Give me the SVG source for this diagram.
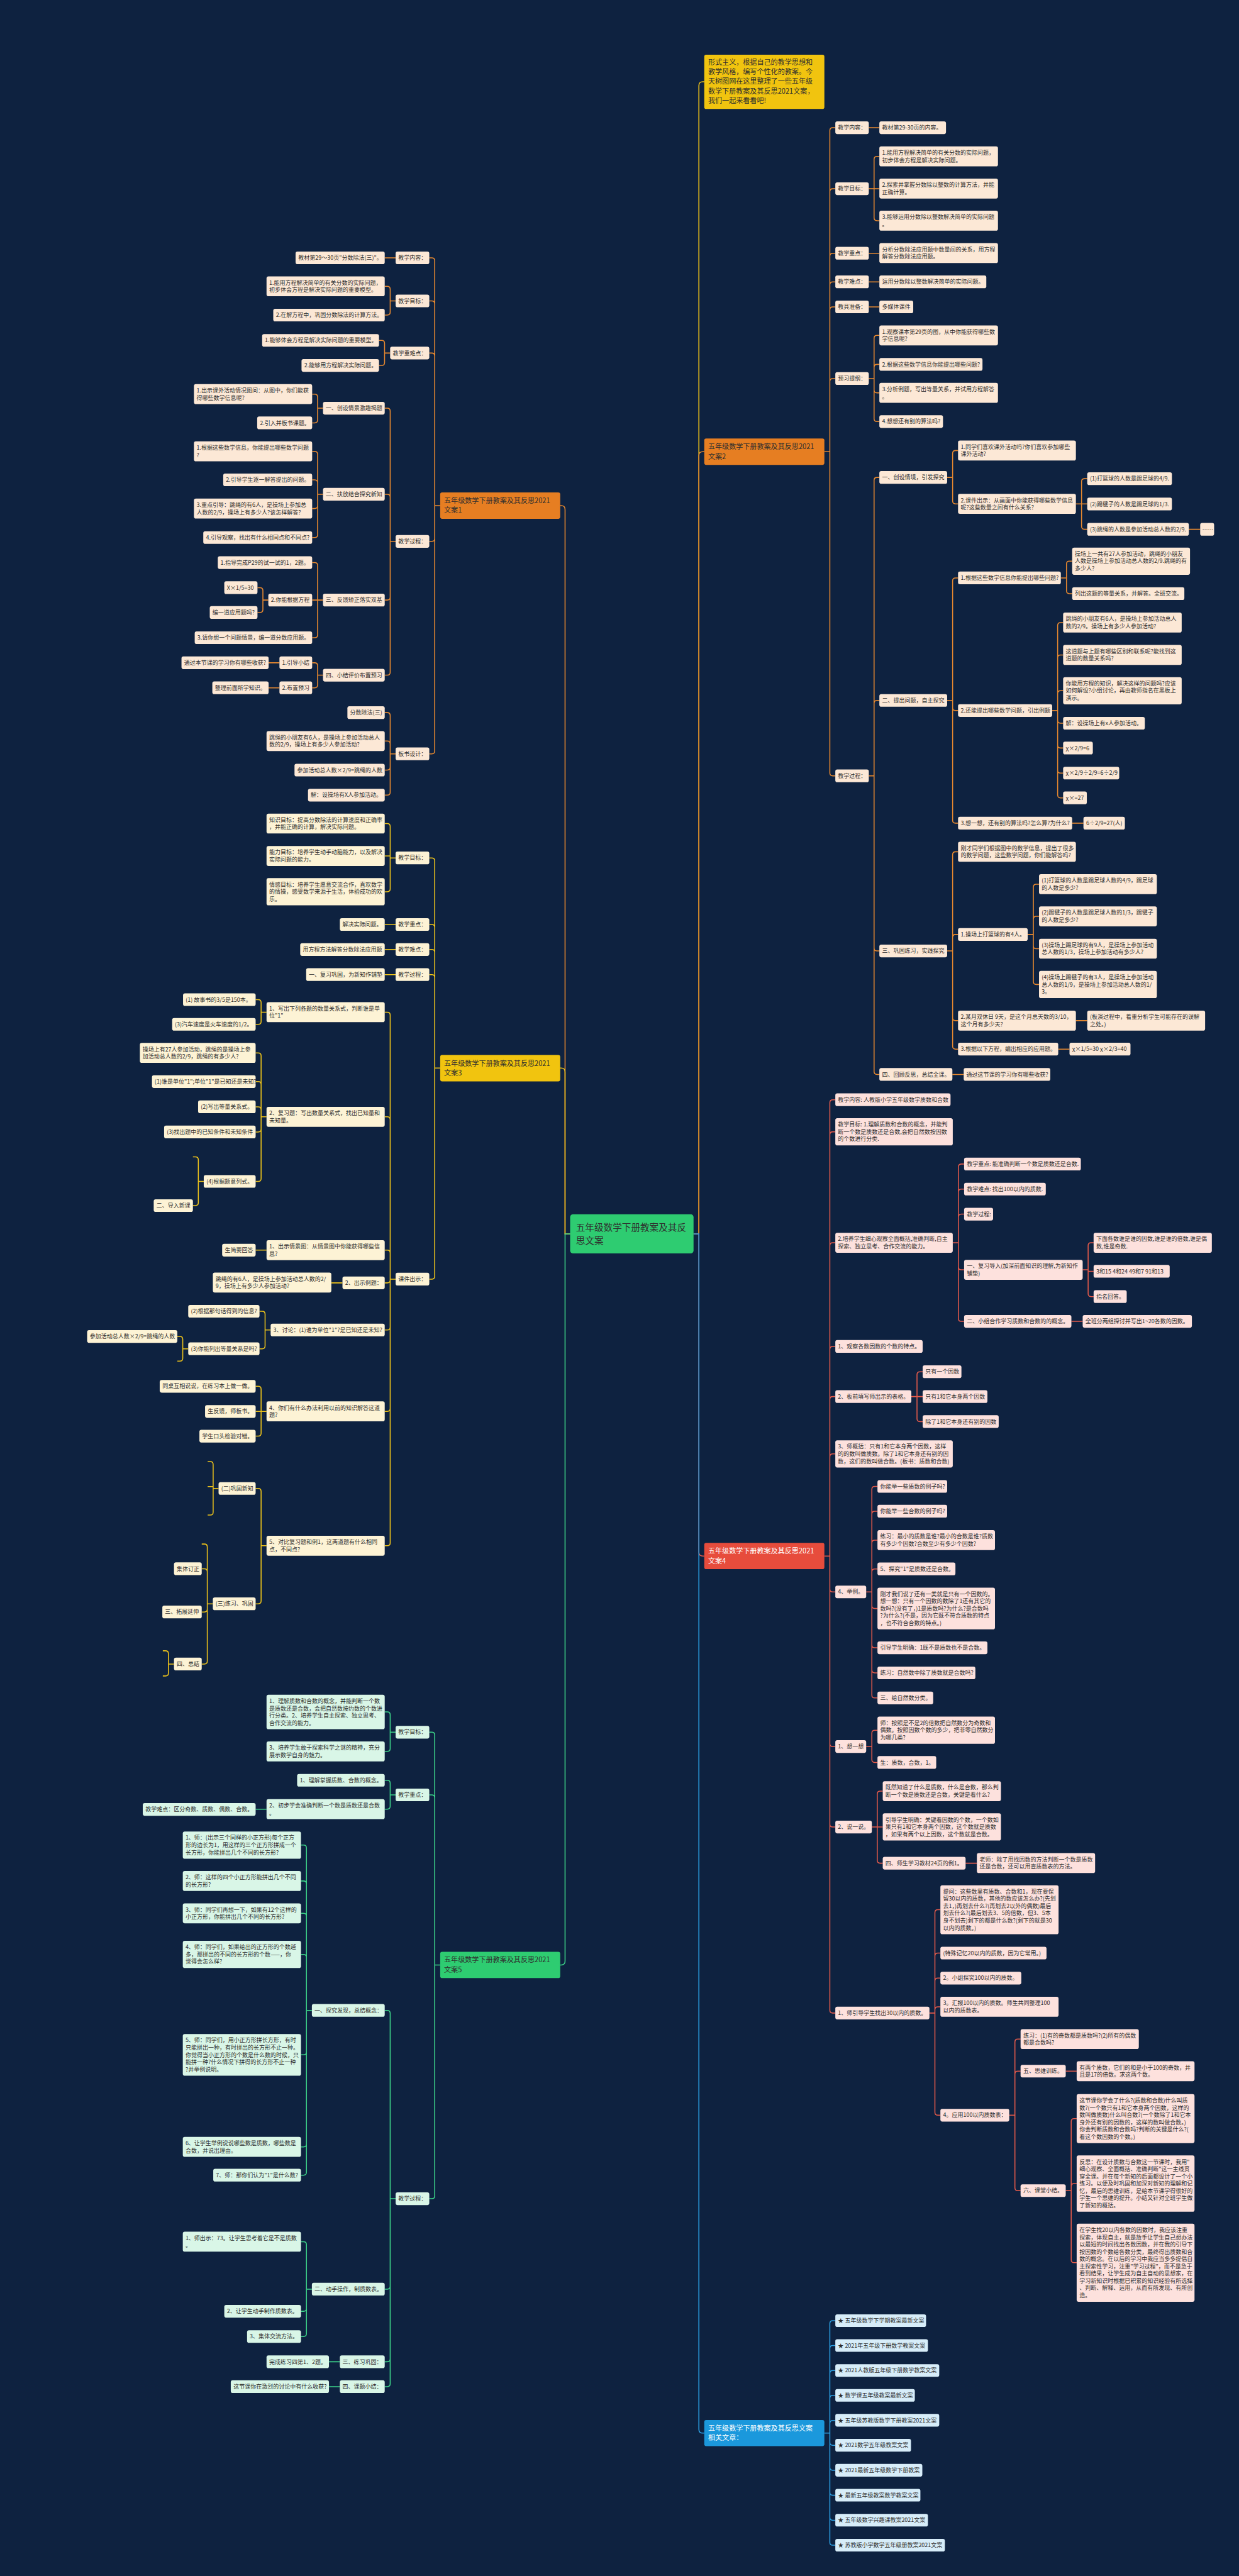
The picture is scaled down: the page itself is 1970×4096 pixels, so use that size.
<svg xmlns="http://www.w3.org/2000/svg" width="1970" height="4096" viewBox="0 0 1970 4096">
<style>
text{font-family:"Noto Sans CJK SC","Microsoft YaHei",sans-serif;font-size:11.7px;fill:#2e2e2e}
.bt{font-size:14.4px}
.ct{font-size:19px}
.it{font-size:14.4px}
.wt{fill:#ffffff}
rect{rx:4px}
.o{fill:#fce8d6}.y{fill:#fdf3d5}.r{fill:#fde1dd}.g{fill:#d9f6e7}.b{fill:#d7edf9}
.bo{fill:#e67e22}.by{fill:#f1c40f}.br{fill:#e74c3c}.bg{fill:#2ecc71}.bb{fill:#1b98dc}
path{fill:none;stroke-width:2}
.lo{stroke:#e8892f}.ly{stroke:#eec31a}.lr{stroke:#e35a4b}.lg{stroke:#3dd389}.lb{stroke:#2b9fe2}
</style>
<rect x="0" y="0" width="1970" height="4096" fill="#0e2240" style="rx:0"/>
<g transform="scale(0.76953)">
<g id="connectors">
<path class="lo" d="M1178 2549.5H1167.5V1052.8Q1167.5 1044.8 1159.5 1044.8H1157.5"/>
<path class="ly" d="M1178 2549.5H1167.5V2215Q1167.5 2207 1159.5 2207H1157.5"/>
<path class="lg" d="M1178 2549.5H1167.5V4052.2Q1167.5 4060.2 1159.5 4060.2H1157.5"/>
<path class="ly" d="M1433 2549.5H1444V177Q1444 169 1452 169H1455.1"/>
<path class="lo" d="M1433 2549.5H1444V941.3Q1444 933.3 1452 933.3H1455.1"/>
<path class="lr" d="M1433 2549.5H1444V3207.2Q1444 3215.2 1452 3215.2H1455.1"/>
<path class="lb" d="M1433 2549.5H1444V5019.5Q1444 5027.5 1452 5027.5H1455.1"/>
<path class="lo" d="M909.5 1044.8H898.2V538.8Q898.2 532.8 892.2 532.8H887M898.2 627.8Q898.2 621.8 892.2 621.8H887M898.2 735.5Q898.2 729.5 892.2 729.5H887M909.5 1044.8H898.2V1112.6Q898.2 1118.6 892.2 1118.6H887V1118.6M898.2 1112.6V1551.7Q898.2 1557.7 892.2 1557.7H887"/>
<path class="lo" d="M817.4 532.8H794.9"/>
<path class="lo" d="M817.4 621.8H806.2V597.7Q806.2 591.7 800.2 591.7H794.9M806.2 621.8V645Q806.2 651 800.2 651H794.9"/>
<path class="lo" d="M806.1 729.5H794.6V709.3Q794.6 703.3 788.6 703.3H783.1M794.6 729.5V749.1Q794.6 755.1 788.6 755.1H783.1"/>
<path class="lo" d="M817.4 1118.6H806.2V849.5Q806.2 843.5 800.2 843.5H794.9M806.2 1027.3Q806.2 1021.3 800.2 1021.3H794.9M806.2 1118.6V1233.9Q806.2 1239.9 800.2 1239.9H794.9M806.2 1233.9V1389.1Q806.2 1395.1 800.2 1395.1H794.9"/>
<path class="lo" d="M667.4 843.5H656.2V820.4Q656.2 814.4 650.2 814.4H645M656.2 843.5V867.8Q656.2 873.8 650.2 873.8H645"/>
<path class="lo" d="M667.4 1021.3H656.2V938.6Q656.2 932.6 650.2 932.6H645M656.2 997.5Q656.2 991.5 650.2 991.5H645M656.2 1021.3V1044.8Q656.2 1050.8 650.2 1050.8H645M656.2 1044.8V1104.8Q656.2 1110.8 650.2 1110.8H645"/>
<path class="lo" d="M667.4 1239.9H656.2V1168.5Q656.2 1162.5 650.2 1162.5H645M667.4 1239.9H645M656.2 1239.9V1311.7Q656.2 1317.7 650.2 1317.7H645"/>
<path class="lo" d="M554.4 1239.9H543.2V1220.3Q543.2 1214.3 537.2 1214.3H532M543.2 1239.9V1259.6Q543.2 1265.6 537.2 1265.6H532"/>
<path class="lo" d="M667.4 1395.1H656.2V1375.5Q656.2 1369.5 650.2 1369.5H645M656.2 1395.1V1415.2Q656.2 1421.2 650.2 1421.2H645M577.4 1369.5H555M577.4 1421.2H555"/>
<path class="lo" d="M817.4 1557.7H806.2V1478.5Q806.2 1472.5 800.2 1472.5H794.9M806.2 1537.2Q806.2 1531.2 800.2 1531.2H794.9M806.2 1557.7V1585.2Q806.2 1591.2 800.2 1591.2H794.9M806.2 1585.2V1637Q806.2 1643 800.2 1643H794.9"/>
<path class="ly" d="M909.5 2207H898.2V1778.7Q898.2 1772.7 892.2 1772.7H887M898.2 1916.2Q898.2 1910.2 892.2 1910.2H887M898.2 1968Q898.2 1962 892.2 1962H887M898.2 2019.8Q898.2 2013.8 892.2 2013.8H887M909.5 2207H898.2V2637.1Q898.2 2643.1 892.2 2643.1H887"/>
<path class="ly" d="M817.4 1772.7H806.2V1707.7Q806.2 1701.7 800.2 1701.7H794.9M806.2 1772.7V1768.7H794.9M806.2 1772.7V1836.6Q806.2 1842.6 800.2 1842.6H794.9M817.4 1910.2H794.9M817.4 1962H794.9M817.4 2013.8H794.9"/>
<path class="ly" d="M817.4 2643.1H806.2V2097.4Q806.2 2091.4 800.2 2091.4H794.9M806.2 2313.7Q806.2 2307.7 800.2 2307.7H794.9M806.2 2589.2Q806.2 2583.2 800.2 2583.2H794.9M817.4 2643.1H806.2V2644.8Q806.2 2650.8 800.2 2650.8H794.9M806.2 2644.8V2742.1Q806.2 2748.1 800.2 2748.1H794.9M806.2 2742.1V2910.3Q806.2 2916.3 800.2 2916.3H794.9M806.2 2910.3V3187.9Q806.2 3193.9 800.2 3193.9H794.9"/>
<path class="ly" d="M550.7 2091.4H539.5V2071.6Q539.5 2065.6 533.5 2065.6H528.2M539.5 2091.4V2110.6Q539.5 2116.6 533.5 2116.6H528.2"/>
<path class="ly" d="M550.7 2307.7H539.5V2181.6Q539.5 2175.6 533.5 2175.6H528.2M539.5 2240.9Q539.5 2234.9 533.5 2234.9H528.2M539.5 2293Q539.5 2287 533.5 2287H528.2M539.5 2307.7V2333Q539.5 2339 533.5 2339H528.2M539.5 2333V2435.1Q539.5 2441.1 533.5 2441.1H528.2"/>
<path class="ly" d="M421 2441.1H409.8V2396.5Q409.8 2390.5 403.8 2390.5H398.6M409.8 2441.1V2485.1Q409.8 2491.1 403.8 2491.1H398.6"/>
<path class="ly" d="M550.7 2583.2H528.2M707.6 2650.8H684.6"/>
<path class="ly" d="M559.2 2748.1H547.7V2715.4Q547.7 2709.4 541.7 2709.4H536.2M547.7 2748.1V2781Q547.7 2787 541.7 2787H536.2"/>
<path class="ly" d="M388.9 2787H377.6V2767.5Q377.6 2761.5 371.6 2761.5H366.4M377.6 2787V2806.5Q377.6 2812.5 371.6 2812.5H366.4"/>
<path class="ly" d="M550.7 2916.3H539.5V2870.5Q539.5 2864.5 533.5 2864.5H528.2M550.7 2916.3H528.2M539.5 2916.3V2961.5Q539.5 2967.5 533.5 2967.5H528.2"/>
<path class="ly" d="M550.7 3193.9H539.5V3081.6Q539.5 3075.6 533.5 3075.6H528.2M539.5 3193.9V3307.9Q539.5 3313.9 533.5 3313.9H528.2"/>
<path class="ly" d="M451.6 3075.6H440.4V3026.1Q440.4 3020.1 434.4 3020.1H429.1M440.4 3075.6V3071.6H429.1M440.4 3075.6V3124.6Q440.4 3130.6 434.4 3130.6H429.1"/>
<path class="ly" d="M439.8 3313.9H428.3V3196.4Q428.3 3190.4 422.3 3190.4H416.8M428.3 3247.5Q428.3 3241.5 422.3 3241.5H416.8M428.3 3313.9V3324.8Q428.3 3330.8 422.3 3330.8H416.8M428.3 3324.8V3432.4Q428.3 3438.4 422.3 3438.4H416.8"/>
<path class="ly" d="M359.5 3438.4H348V3417Q348 3411 342 3411H336.4M348 3438.4V3457Q348 3463 342 3463H336.4"/>
<path class="lg" d="M909.5 4060.2H898.2V3585.2Q898.2 3579.2 892.2 3579.2H887M898.2 3714.7Q898.2 3708.7 892.2 3708.7H887M909.5 4060.2H898.2V4537.1Q898.2 4543.1 892.2 4543.1H887"/>
<path class="lg" d="M817.4 3579.2H806.2V3543.3Q806.2 3537.3 800.2 3537.3H794.9M806.2 3579.2V3612.9Q806.2 3618.9 800.2 3618.9H794.9"/>
<path class="lg" d="M817.4 3708.7H806.2V3684.6Q806.2 3678.6 800.2 3678.6H794.9M806.2 3708.7V3732.2Q806.2 3738.2 800.2 3738.2H794.9M550.7 3738.2H528.2"/>
<path class="lg" d="M817.4 4543.1H806.2V4160.1Q806.2 4154.1 800.2 4154.1H794.9M817.4 4543.1H806.2V4724.1Q806.2 4730.1 800.2 4730.1H794.9M806.2 4724.1V4874.1Q806.2 4880.1 800.2 4880.1H794.9M806.2 4874.1V4925.5Q806.2 4931.5 800.2 4931.5H794.9M702.2 4880.1H679.7M702.2 4931.5H679.7"/>
<path class="lg" d="M644.4 4154.1H633.2V3818.5Q633.2 3812.5 627.2 3812.5H621.9M633.2 3892.6Q633.2 3886.6 627.2 3886.6H621.9M633.2 3959.5Q633.2 3953.5 627.2 3953.5H621.9M633.2 4044.5Q633.2 4038.5 627.2 4038.5H621.9M644.4 4154.1H633.2V4239.8Q633.2 4245.8 627.2 4245.8H621.9M633.2 4239.8V4430.1Q633.2 4436.1 627.2 4436.1H621.9M633.2 4430.1V4488.5Q633.2 4494.5 627.2 4494.5H621.9"/>
<path class="lg" d="M644.4 4730.1H633.2V4638Q633.2 4632 627.2 4632H621.9M633.2 4730.1V4769.8Q633.2 4775.8 627.2 4775.8H621.9M633.2 4769.8V4821.9Q633.2 4827.9 627.2 4827.9H621.9"/>
<path class="lo" d="M1703.3 933.3H1714.6V269.9Q1714.6 263.9 1720.6 263.9H1725.9M1714.6 396Q1714.6 390 1720.6 390H1725.9M1714.6 529.3Q1714.6 523.3 1720.6 523.3H1725.9M1714.6 588.4Q1714.6 582.4 1720.6 582.4H1725.9M1714.6 640.2Q1714.6 634.2 1720.6 634.2H1725.9M1714.6 788.2Q1714.6 782.2 1720.6 782.2H1725.9M1703.3 933.3H1714.6V1597.1Q1714.6 1603.1 1720.6 1603.1H1725.9"/>
<path class="lo" d="M1795.1 263.9H1816.9M1795.1 390H1806V329.2Q1806 323.2 1812 323.2H1816.9M1795.1 390H1816.9M1806 390V450Q1806 456 1812 456H1816.9M1795.1 523.3H1816.9M1795.1 582.4H1816.9M1795.1 634.2H1816.9"/>
<path class="lo" d="M1795.1 782.2H1806V699Q1806 693 1812 693H1816.9M1806 758.9Q1806 752.9 1812 752.9H1816.9M1806 782.2V805.7Q1806 811.7 1812 811.7H1816.9M1806 805.7V865.1Q1806 871.1 1812 871.1H1816.9"/>
<path class="lo" d="M1795.1 1603.1H1806V992.5Q1806 986.5 1812 986.5H1816.9M1806 1453.3Q1806 1447.3 1812 1447.3H1816.9M1795.1 1603.1H1806V1958.9Q1806 1964.9 1812 1964.9H1816.9M1806 1958.9V2214.1Q1806 2220.1 1812 2220.1H1816.9"/>
<path class="lo" d="M1957 986.5H1968.3V936.9Q1968.3 930.9 1974.3 930.9H1979.5M1968.3 986.5V1035.1Q1968.3 1041.1 1974.3 1041.1H1979.5"/>
<path class="lo" d="M2223 1041.1H2234.7V995.1Q2234.7 989.1 2240.7 989.1H2246.4M2223 1041.1H2246.4M2234.7 1041.1V1087.7Q2234.7 1093.7 2240.7 1093.7H2246.4M2456.4 1093.7H2479.8"/>
<path class="lo" d="M1957 1447.3H1968.3V1200.1Q1968.3 1194.1 1974.3 1194.1H1979.5M1968.3 1447.3V1462.2Q1968.3 1468.2 1974.3 1468.2H1979.5M1968.3 1462.2V1694.9Q1968.3 1700.9 1974.3 1700.9H1979.5"/>
<path class="lo" d="M2191.9 1194.1H2203.6V1165.5Q2203.6 1159.5 2209.6 1159.5H2215.3M2203.6 1194.1V1220.6Q2203.6 1226.6 2209.6 1226.6H2215.3"/>
<path class="lo" d="M2174 1468.2H2185.3V1292.4Q2185.3 1286.4 2191.3 1286.4H2196.6M2185.3 1359.3Q2185.3 1353.3 2191.3 1353.3H2196.6M2185.3 1433.2Q2185.3 1427.2 2191.3 1427.2H2196.6M2174 1468.2H2185.3V1488.4Q2185.3 1494.4 2191.3 1494.4H2196.6M2185.3 1488.4V1539.6Q2185.3 1545.6 2191.3 1545.6H2196.6M2185.3 1539.6V1591.4Q2185.3 1597.4 2191.3 1597.4H2196.6M2185.3 1591.4V1642.6Q2185.3 1648.6 2191.3 1648.6H2196.6M2215.3 1700.9H2238.6"/>
<path class="lo" d="M1957 1964.9H1968.3V1766Q1968.3 1760 1974.3 1760H1979.5M1968.3 1936.9Q1968.3 1930.9 1974.3 1930.9H1979.5M1957 1964.9H1968.3V2102.9Q1968.3 2108.9 1974.3 2108.9H1979.5M1968.3 2102.9V2161.8Q1968.3 2167.8 1974.3 2167.8H1979.5"/>
<path class="lo" d="M2123.4 1930.9H2135.1V1833Q2135.1 1827 2141.1 1827H2146.8M2135.1 1899.4Q2135.1 1893.4 2141.1 1893.4H2146.8M2135.1 1930.9V1954.3Q2135.1 1960.3 2141.1 1960.3H2146.8M2135.1 1954.3V2028.2Q2135.1 2034.2 2141.1 2034.2H2146.8M2223 2108.9H2246.4M2186.5 2167.8H2209.8M1967.8 2220.1H1991.2"/>
<path class="lr" d="M1703.3 3215.2H1714.6V2278.4Q1714.6 2272.4 1720.6 2272.4H1725.9M1714.6 2344.6Q1714.6 2338.6 1720.6 2338.6H1725.9M1714.6 2573.9Q1714.6 2567.9 1720.6 2567.9H1725.9M1714.6 2788.1Q1714.6 2782.1 1720.6 2782.1H1725.9M1714.6 2891.7Q1714.6 2885.7 1720.6 2885.7H1725.9M1714.6 3010.2Q1714.6 3004.2 1720.6 3004.2H1725.9M1703.3 3215.2H1714.6V3283.4Q1714.6 3289.4 1720.6 3289.4H1725.9M1714.6 3283.4V3602.8Q1714.6 3608.8 1720.6 3608.8H1725.9M1714.6 3602.8V3769.1Q1714.6 3775.1 1720.6 3775.1H1725.9M1714.6 3769.1V4153.5Q1714.6 4159.5 1720.6 4159.5H1725.9"/>
<path class="lr" d="M1968.6 2567.9H1980.3V2411.2Q1980.3 2405.2 1986.3 2405.2H1992M1980.3 2463Q1980.3 2457 1986.3 2457H1992M1980.3 2514.8Q1980.3 2508.8 1986.3 2508.8H1992M1968.6 2567.9H1980.3V2617.8Q1980.3 2623.8 1986.3 2623.8H1992M1980.3 2617.8V2724.3Q1980.3 2730.3 1986.3 2730.3H1992"/>
<path class="lr" d="M2237 2623.8H2248.3V2573.9Q2248.3 2567.9 2254.3 2567.9H2259.6M2248.3 2623.8V2626.8H2259.6M2248.3 2626.8V2673.1Q2248.3 2679.1 2254.3 2679.1H2259.6M2213.7 2730.3H2237"/>
<path class="lr" d="M1883 2885.7H1894.7V2840.4Q1894.7 2834.4 1900.7 2834.4H1906.4M1883 2885.7H1906.4M1894.7 2885.7V2931.4Q1894.7 2937.4 1900.7 2937.4H1906.4"/>
<path class="lr" d="M1789.7 3289.4H1801.4V3077.3Q1801.4 3071.3 1807.4 3071.3H1813M1801.4 3128.6Q1801.4 3122.6 1807.4 3122.6H1813M1801.4 3188.4Q1801.4 3182.4 1807.4 3182.4H1813M1801.4 3247.8Q1801.4 3241.8 1807.4 3241.8H1813M1789.7 3289.4H1801.4V3317.6Q1801.4 3323.6 1807.4 3323.6H1813M1801.4 3317.6V3398.8Q1801.4 3404.8 1807.4 3404.8H1813M1801.4 3398.8V3450.6Q1801.4 3456.6 1807.4 3456.6H1813M1801.4 3450.6V3502.4Q1801.4 3508.4 1807.4 3508.4H1813"/>
<path class="lr" d="M1789.7 3608.8H1801.4V3581.1Q1801.4 3575.1 1807.4 3575.1H1813M1801.4 3608.8V3635.7Q1801.4 3641.7 1807.4 3641.7H1813"/>
<path class="lr" d="M1801.4 3775.1H1812.6V3707Q1812.6 3701 1818.6 3701H1823.9M1801.4 3775.1H1823.9M1812.6 3775.1V3843.9Q1812.6 3849.9 1818.6 3849.9H1823.9M1995.1 3849.9H2018.4"/>
<path class="lr" d="M1920.4 4159.5H1931.7V3952Q1931.7 3946 1937.7 3946H1943M1931.7 4041.6Q1931.7 4035.6 1937.7 4035.6H1943M1931.7 4093.3Q1931.7 4087.3 1937.7 4087.3H1943M1931.7 4152.6Q1931.7 4146.6 1937.7 4146.6H1943M1920.4 4159.5H1931.7V4364.6Q1931.7 4370.6 1937.7 4370.6H1943"/>
<path class="lr" d="M2085.3 4370.6H2097V4219.3Q2097 4213.3 2103 4213.3H2108.7M2097 4285.6Q2097 4279.6 2103 4279.6H2108.7M2085.3 4370.6H2097V4520.5Q2097 4526.5 2103 4526.5H2108.7M2202 4279.6H2224.6"/>
<path class="lr" d="M2202 4526.5H2213.3V4383.6Q2213.3 4377.6 2219.3 4377.6H2224.6M2213.3 4517.8Q2213.3 4511.8 2219.3 4511.8H2224.6M2202 4526.5H2213.3V4669.3Q2213.3 4675.3 2219.3 4675.3H2224.6"/>
<path class="lb" d="M1703.3 5027.5H1714.6V4801.1Q1714.6 4795.1 1720.6 4795.1H1725.9M1714.6 4852.5Q1714.6 4846.5 1720.6 4846.5H1725.9M1714.6 4904Q1714.6 4898 1720.6 4898H1725.9M1714.6 4955.4Q1714.6 4949.4 1720.6 4949.4H1725.9M1714.6 5007.3Q1714.6 5001.3 1720.6 5001.3H1725.9M1703.3 5027.5H1714.6V5046.7Q1714.6 5052.7 1720.6 5052.7H1725.9M1714.6 5046.7V5098.4Q1714.6 5104.4 1720.6 5104.4H1725.9M1714.6 5098.4V5149.9Q1714.6 5155.9 1720.6 5155.9H1725.9M1714.6 5149.9V5201.6Q1714.6 5207.6 1720.6 5207.6H1725.9M1714.6 5201.6V5253.1Q1714.6 5259.1 1720.6 5259.1H1725.9"/>
</g>

<g id="center"><rect class="bg" x="1178" y="2509" width="255" height="81" style="rx:6px"/><text class="ct" x="1190" y="2543">五年级数学下册教案及其反</text><text class="ct" x="1190" y="2570">思文案</text></g>

<g id="intro"><rect class="by" x="1455.1" y="113" width="248.2" height="112.2"/><text class="it" x="1463.1" y="133.4">形式主义，根据自己的教学思想和</text><text class="it" x="1463.1" y="153.3">教学风格，编写个性化的教案。今</text><text class="it" x="1463.1" y="173.2">天树图网在这里整理了一些五年级</text><text class="it" x="1463.1" y="193.1">数学下册教案及其反思2021文案，</text><text class="it" x="1463.1" y="213">我们一起来看看吧!</text></g>

<g id="b1"><rect class="bo" x="909.5" y="1017.6" width="248" height="54.4"/><text class="bt" x="917.5" y="1039.6">五年级数学下册教案及其反思2021</text><text class="bt" x="917.5" y="1059.6">文案1</text></g>
<g id="b1a"><rect class="o" x="817.4" y="519.7" width="69.6" height="26.2"/><text x="822.9" y="536.9">教学内容：</text></g>
<g id="b1a1"><rect class="o" x="610.7" y="519.7" width="184.2" height="26.2"/><text x="616.2" y="536.9">教材第29～30页"分数除法(三)"。</text></g>
<g id="b1b"><rect class="o" x="817.4" y="608.7" width="69.6" height="26.2"/><text x="822.9" y="625.9">教学目标：</text></g>
<g id="b1b1"><rect class="o" x="550.7" y="571" width="244.2" height="41.2"/><text x="556.2" y="588.2">1.能用方程解决简单的有关分数的实际问题，</text><text x="556.2" y="603.2">初步体会方程是解决实际问题的重要模型。</text></g>
<g id="b1b2"><rect class="o" x="564.6" y="638" width="230.3" height="26.2"/><text x="570.1" y="655.2">2.在解方程中，巩固分数除法的计算方法。</text></g>
<g id="b1c"><rect class="o" x="806.1" y="716.4" width="80.9" height="26.2"/><text x="811.6" y="733.6">教学重难点：</text></g>
<g id="b1c1"><rect class="o" x="541.6" y="690.2" width="241.5" height="26.2"/><text x="547.1" y="707.4">1.能够体会方程是解决实际问题的重要模型。</text></g>
<g id="b1c2"><rect class="o" x="623" y="742" width="160.1" height="26.2"/><text x="628.5" y="759.2">2.能够用方程解决实际问题。</text></g>
<g id="b1d"><rect class="o" x="817.4" y="1105.5" width="69.6" height="26.2"/><text x="822.9" y="1122.7">教学过程：</text></g>
<g id="b1d1"><rect class="o" x="667.4" y="830.4" width="127.5" height="26.2"/><text x="672.9" y="847.6">一、创设情景激趣揭题</text></g>
<g id="b1d1a"><rect class="o" x="400.7" y="793.8" width="244.3" height="41.2"/><text x="406.2" y="811">1.出示课外活动情况图问：从图中，你们能获</text><text x="406.2" y="826">得哪些数学信息呢?</text></g>
<g id="b1d1b"><rect class="o" x="531.4" y="860.7" width="113.6" height="26.2"/><text x="536.9" y="877.9">2.引入并板书课题。</text></g>
<g id="b1d2"><rect class="o" x="667.4" y="1008.2" width="127.5" height="26.2"/><text x="672.9" y="1025.4">二、扶放结合探究新知</text></g>
<g id="b1d2a"><rect class="o" x="400.7" y="912" width="244.3" height="41.2"/><text x="406.2" y="929.2">1.根据这些数学信息，你能提出哪些数学问题</text><text x="406.2" y="944.2">?</text></g>
<g id="b1d2b"><rect class="o" x="461.2" y="978.4" width="183.8" height="26.2"/><text x="466.7" y="995.6">2.引导学生逐一解答提出的问题。</text></g>
<g id="b1d2c"><rect class="o" x="400.7" y="1030.2" width="244.3" height="41.2"/><text x="406.2" y="1047.4">3.重点引导：跳绳的有6人，是操场上参加总</text><text x="406.2" y="1062.4">人数的2/9，操场上有多少人?该怎样解答?</text></g>
<g id="b1d2d"><rect class="o" x="420" y="1097.7" width="225" height="26.2"/><text x="425.5" y="1114.9">4.引导观察，找出有什么相同点和不同点?</text></g>
<g id="b1d3"><rect class="o" x="667.4" y="1226.8" width="127.5" height="26.2"/><text x="672.9" y="1244">三、反馈矫正落实双基</text></g>
<g id="b1d3a"><rect class="o" x="450" y="1149.4" width="195" height="26.2"/><text x="455.5" y="1166.6">1.指导完成P29的试一试的1，2题。</text></g>
<g id="b1d3b"><rect class="o" x="554.4" y="1226.8" width="90.6" height="26.2"/><text x="559.9" y="1244">2.你能根据方程</text></g>
<g id="b1d3b1"><rect class="o" x="463.4" y="1201.2" width="68.6" height="26.2"/><text x="468.9" y="1218.4">X×1/5=30</text></g>
<g id="b1d3b2"><rect class="o" x="433.4" y="1252.5" width="98.6" height="26.2"/><text x="438.9" y="1269.7">编一道应用题吗?</text></g>
<g id="b1d3c"><rect class="o" x="402.3" y="1304.6" width="242.7" height="26.2"/><text x="407.8" y="1321.8">3.请你想一个问题情景，编一道分数应用题。</text></g>
<g id="b1d4"><rect class="o" x="667.4" y="1382" width="127.5" height="26.2"/><text x="672.9" y="1399.2">四、小结评价布置预习</text></g>
<g id="b1d4a"><rect class="o" x="577.4" y="1356.4" width="67.6" height="26.2"/><text x="582.9" y="1373.6">1.引导小结</text></g>
<g id="b1d4a1"><rect class="o" x="375" y="1356.4" width="180" height="26.2"/><text x="380.5" y="1373.6">通过本节课的学习你有哪些收获?</text></g>
<g id="b1d4b"><rect class="o" x="577.4" y="1408.1" width="67.6" height="26.2"/><text x="582.9" y="1425.3">2.布置预习</text></g>
<g id="b1d4b1"><rect class="o" x="438.7" y="1408.1" width="116.3" height="26.2"/><text x="444.2" y="1425.3">整理前面所学知识。</text></g>
<g id="b1e"><rect class="o" x="817.4" y="1544.6" width="69.6" height="26.2"/><text x="822.9" y="1561.8">板书设计：</text></g>
<g id="b1e1"><rect class="o" x="717.8" y="1459.4" width="77.1" height="26.2"/><text x="723.3" y="1476.6">分数除法(三)</text></g>
<g id="b1e2"><rect class="o" x="550.7" y="1510.6" width="244.2" height="41.2"/><text x="556.2" y="1527.8">跳绳的小朋友有6人，是操场上参加活动总人</text><text x="556.2" y="1542.8">数的2/9，操场上有多少人参加活动?</text></g>
<g id="b1e3"><rect class="o" x="608.5" y="1578.1" width="186.4" height="26.2"/><text x="614" y="1595.3">参加活动总人数×2/9=跳绳的人数</text></g>
<g id="b1e4"><rect class="o" x="636.4" y="1629.9" width="158.5" height="26.2"/><text x="641.9" y="1647.1">解：设操场有X人参加活动。</text></g>

<g id="b3"><rect class="by" x="909.5" y="2180" width="248" height="54.4"/><text class="bt" x="917.5" y="2202">五年级数学下册教案及其反思2021</text><text class="bt" x="917.5" y="2222">文案3</text></g>
<g id="b3f"><rect class="y" x="817.4" y="1759.6" width="69.6" height="26.2"/><text x="822.9" y="1776.8">教学目标：</text></g>
<g id="b3f1"><rect class="y" x="550.7" y="1681.1" width="244.2" height="41.2"/><text x="556.2" y="1698.3">知识目标：提高分数除法的计算速度和正确率</text><text x="556.2" y="1713.3">，并能正确的计算，解决实际问题。</text></g>
<g id="b3f2"><rect class="y" x="550.7" y="1748.1" width="244.2" height="41.2"/><text x="556.2" y="1765.3">能力目标：培养学生动手动脑能力，以及解决</text><text x="556.2" y="1780.3">实际问题的能力。</text></g>
<g id="b3f3"><rect class="y" x="550.7" y="1814.5" width="244.2" height="56.2"/><text x="556.2" y="1831.7">情感目标：培养学生愿意交流合作，喜欢数学</text><text x="556.2" y="1846.7">的情操，感受数学来源于生活，体验成功的欢</text><text x="556.2" y="1861.7">乐。</text></g>
<g id="b3g"><rect class="y" x="817.4" y="1897.1" width="69.6" height="26.2"/><text x="822.9" y="1914.3">教学重点：</text></g>
<g id="b3g1"><rect class="y" x="702.2" y="1897.1" width="92.7" height="26.2"/><text x="707.7" y="1914.3">解决实际问题。</text></g>
<g id="b3h"><rect class="y" x="817.4" y="1948.9" width="69.6" height="26.2"/><text x="822.9" y="1966.1">教学难点：</text></g>
<g id="b3h1"><rect class="y" x="620.3" y="1948.9" width="174.6" height="26.2"/><text x="625.8" y="1966.1">用方程方法解答分数除法应用题</text></g>
<g id="b3i"><rect class="y" x="817.4" y="2000.7" width="69.6" height="26.2"/><text x="822.9" y="2017.9">教学过程：</text></g>
<g id="b3i1"><rect class="y" x="632.6" y="2000.7" width="162.3" height="26.2"/><text x="638.1" y="2017.9">一、复习巩固，为新知作铺垫</text></g>
<g id="b3j"><rect class="y" x="817.4" y="2630" width="69.6" height="26.2"/><text x="822.9" y="2647.2">课件出示：</text></g>
<g id="b3j1"><rect class="y" x="550.7" y="2070.8" width="244.2" height="41.2"/><text x="556.2" y="2088">1、写出下列各题的数量关系式，判断谁是单</text><text x="556.2" y="2103">位"1"</text></g>
<g id="b3j1a"><rect class="y" x="378.2" y="2052.5" width="150" height="26.2"/><text x="383.7" y="2069.7">(1) 故事书的3/5是150本。</text></g>
<g id="b3j1c"><rect class="y" x="355.7" y="2103.5" width="172.5" height="26.2"/><text x="361.2" y="2120.7">(3)汽车速度是火车速度的1/2。</text></g>
<g id="b3j2"><rect class="y" x="550.7" y="2287.1" width="244.2" height="41.2"/><text x="556.2" y="2304.3">2、复习题：写出数量关系式，找出已知量和</text><text x="556.2" y="2319.3">未知量。</text></g>
<g id="b3j2a"><rect class="y" x="289" y="2155" width="239.2" height="41.2"/><text x="294.5" y="2172.2">操场上有27人参加活动，跳绳的是操场上参</text><text x="294.5" y="2187.2">加活动总人数的2/9，跳绳的有多少人?</text></g>
<g id="b3j2b"><rect class="y" x="314" y="2221.8" width="214.2" height="26.2"/><text x="319.5" y="2239">(1)谁是单位"1";单位"1"是已知还是未知?</text></g>
<g id="b3j2c"><rect class="y" x="409.3" y="2273.9" width="118.9" height="26.2"/><text x="414.8" y="2291.1">(2)写出等量关系式。</text></g>
<g id="b3j2d"><rect class="y" x="339.1" y="2325.9" width="189.1" height="26.2"/><text x="344.6" y="2343.1">(3)找出题中的已知条件和未知条件</text></g>
<g id="b3j2e"><rect class="y" x="421" y="2428" width="107.2" height="26.2"/><text x="426.5" y="2445.2">(4)根据题意列式。</text></g>
<g id="b3j2e2"><rect class="y" x="317.6" y="2478" width="81" height="26.2"/><text x="323.1" y="2495.2">二、导入新课</text></g>
<g id="b3j3"><rect class="y" x="550.7" y="2562.6" width="244.2" height="41.2"/><text x="556.2" y="2579.8">1、出示情景图：从情景图中你能获得哪些信</text><text x="556.2" y="2594.8">息?</text></g>
<g id="b3j3a"><rect class="y" x="459" y="2570.1" width="69.2" height="26.2"/><text x="464.5" y="2587.3">生简要回答</text></g>
<g id="b3j4"><rect class="y" x="707.6" y="2637.7" width="87.3" height="26.2"/><text x="713.1" y="2654.9">2、出示例题：</text></g>
<g id="b3j4a"><rect class="y" x="439.8" y="2629.5" width="244.8" height="41.2"/><text x="445.3" y="2646.7">跳绳的有6人，是操场上参加活动总人数的2/</text><text x="445.3" y="2661.7">9，操场上有多少人参加活动?</text></g>
<g id="b3j5"><rect class="y" x="559.2" y="2735" width="235.7" height="26.2"/><text x="564.7" y="2752.2">3、讨论：(1)谁为单位"1"?是已知还是未知?</text></g>
<g id="b3j5a"><rect class="y" x="388.9" y="2696.3" width="147.3" height="26.2"/><text x="394.4" y="2713.5">(2)根据那句话得到的信息?</text></g>
<g id="b3j5b"><rect class="y" x="388.9" y="2773.9" width="147.3" height="26.2"/><text x="394.4" y="2791.1">(3)你能列出等量关系是吗?</text></g>
<g id="b3j5b1"><rect class="y" x="180" y="2748.4" width="186.4" height="26.2"/><text x="185.5" y="2765.6">参加活动总人数×2/9=跳绳的人数</text></g>
<g id="b3j6"><rect class="y" x="550.7" y="2895.7" width="244.2" height="41.2"/><text x="556.2" y="2912.9">4、你们有什么办法利用以前的知识解答这道</text><text x="556.2" y="2927.9">题?</text></g>
<g id="b3j6a"><rect class="y" x="330" y="2851.4" width="198.2" height="26.2"/><text x="335.5" y="2868.6">同桌互相说说，在练习本上做一做。</text></g>
<g id="b3j6b"><rect class="y" x="423.7" y="2903.4" width="104.5" height="26.2"/><text x="429.2" y="2920.6">生反馈，师板书。</text></g>
<g id="b3j6c"><rect class="y" x="412" y="2954.4" width="116.2" height="26.2"/><text x="417.5" y="2971.6">学生口头检验对错。</text></g>
<g id="b3j7"><rect class="y" x="550.7" y="3173.3" width="244.2" height="41.2"/><text x="556.2" y="3190.5">5、对比复习题和例1，这两道题有什么相同</text><text x="556.2" y="3205.5">点，不同点?</text></g>
<g id="b3j7a"><rect class="y" x="451.6" y="3062.5" width="76.6" height="26.2"/><text x="457.1" y="3079.7">(二)巩固新知</text></g>
<g id="b3j7b"><rect class="y" x="439.8" y="3300.8" width="88.4" height="26.2"/><text x="445.3" y="3318">(三)练习、巩固</text></g>
<g id="b3j7b2"><rect class="y" x="359.5" y="3228.4" width="57.3" height="26.2"/><text x="365" y="3245.6">集体订正</text></g>
<g id="b3j7b3"><rect class="y" x="335.4" y="3317.7" width="81.4" height="26.2"/><text x="340.9" y="3334.9">三、拓展延伸</text></g>
<g id="b3j7b4"><rect class="y" x="359.5" y="3425.3" width="57.3" height="26.2"/><text x="365" y="3442.5">四、总结</text></g>

<g id="b5"><rect class="bg" x="909.5" y="4032.9" width="248" height="54.4"/><text class="bt" x="917.5" y="4054.9">五年级数学下册教案及其反思2021</text><text class="bt" x="917.5" y="4074.9">文案5</text></g>
<g id="b5k"><rect class="g" x="817.4" y="3566.1" width="69.6" height="26.2"/><text x="822.9" y="3583.3">教学目标：</text></g>
<g id="b5k1"><rect class="g" x="550.7" y="3501.8" width="244.2" height="71.2"/><text x="556.2" y="3519">1、理解质数和合数的概念，并能判断一个数</text><text x="556.2" y="3534">是质数还是合数，会把自然数按约数的个数进</text><text x="556.2" y="3549">行分类。2、培养学生自主探索、独立思考、</text><text x="556.2" y="3564">合作交流的能力。</text></g>
<g id="b5k2"><rect class="g" x="550.7" y="3598.3" width="244.2" height="41.2"/><text x="556.2" y="3615.5">3、培养学生敢于探索科学之谜的精神，充分</text><text x="556.2" y="3630.5">展示数学自身的魅力。</text></g>
<g id="b5l"><rect class="g" x="817.4" y="3695.6" width="69.6" height="26.2"/><text x="822.9" y="3712.8">教学重点：</text></g>
<g id="b5l1"><rect class="g" x="613.9" y="3665.5" width="181" height="26.2"/><text x="619.4" y="3682.7">1、理解掌握质数、合数的概念。</text></g>
<g id="b5l2"><rect class="g" x="550.7" y="3717.6" width="244.2" height="41.2"/><text x="556.2" y="3734.8">2、初步学会准确判断一个数是质数还是合数</text><text x="556.2" y="3749.8">。</text></g>
<g id="b5l2a"><rect class="g" x="295" y="3725.7" width="233.2" height="26.2"/><text x="300.5" y="3742.9">教学难点：区分奇数、质数、偶数、合数。</text></g>
<g id="b5m"><rect class="g" x="817.4" y="4530" width="69.6" height="26.2"/><text x="822.9" y="4547.2">教学过程：</text></g>
<g id="b5m1"><rect class="g" x="644.4" y="4141" width="150.5" height="26.2"/><text x="649.9" y="4158.2">一、探究发现，总结概念：</text></g>
<g id="b5m1a"><rect class="g" x="377.7" y="3784.4" width="244.2" height="56.2"/><text x="383.2" y="3801.6">1、师：(出示三个同样的小正方形)每个正方</text><text x="383.2" y="3816.6">形的边长为1，用这样的三个正方形拼成一个</text><text x="383.2" y="3831.6">长方形，你能拼出几个不同的长方形?</text></g>
<g id="b5m1b"><rect class="g" x="377.7" y="3866" width="244.2" height="41.2"/><text x="383.2" y="3883.2">2、师：这样的四个小正方形能拼出几个不同</text><text x="383.2" y="3898.2">的长方形?</text></g>
<g id="b5m1c"><rect class="g" x="377.7" y="3932.9" width="244.2" height="41.2"/><text x="383.2" y="3950.1">3、师：同学们再想一下，如果有12个这样的</text><text x="383.2" y="3965.1">小正方形，你能拼出几个不同的长方形?</text></g>
<g id="b5m1d"><rect class="g" x="377.7" y="4010.4" width="244.2" height="56.2"/><text x="383.2" y="4027.6">4、师：同学们，如果给出的正方形的个数越</text><text x="383.2" y="4042.6">多，那拼出的不同的长方形的个数——，你</text><text x="383.2" y="4057.6">觉得会怎么样?</text></g>
<g id="b5m1e"><rect class="g" x="377.7" y="4202.8" width="244.2" height="86.2"/><text x="383.2" y="4220">5、师：同学们，用小正方形拼长方形，有时</text><text x="383.2" y="4235">只能拼出一种，有时拼出的长方形不止一种。</text><text x="383.2" y="4250">你觉得当小正方形的个数是什么数的时候，只</text><text x="383.2" y="4265">能拼一种?什么情况下拼得的长方形不止一种</text><text x="383.2" y="4280">?并举例说明。</text></g>
<g id="b5m1f"><rect class="g" x="377.7" y="4415.5" width="244.2" height="41.2"/><text x="383.2" y="4432.7">6、让学生举例说说哪些数是质数，哪些数是</text><text x="383.2" y="4447.7">合数，并说出理由。</text></g>
<g id="b5m1g"><rect class="g" x="440.6" y="4481.4" width="181.3" height="26.2"/><text x="446.1" y="4498.6">7、师：那你们认为"1"是什么数?</text></g>
<g id="b5m2"><rect class="g" x="644.4" y="4717" width="150.5" height="26.2"/><text x="649.9" y="4734.2">二、动手操作，制质数表。</text></g>
<g id="b5m2a"><rect class="g" x="377.7" y="4611.4" width="244.2" height="41.2"/><text x="383.2" y="4628.6">1、师出示：73。让学生思考着它是不是质数</text><text x="383.2" y="4643.6">。</text></g>
<g id="b5m2b"><rect class="g" x="463.4" y="4762.7" width="158.5" height="26.2"/><text x="468.9" y="4779.9">2、让学生动手制作质数表。</text></g>
<g id="b5m2c"><rect class="g" x="510.5" y="4814.8" width="111.4" height="26.2"/><text x="516" y="4832">3、集体交流方法。</text></g>
<g id="b5m3"><rect class="g" x="702.2" y="4867" width="92.7" height="26.2"/><text x="707.7" y="4884.2">三、练习巩固：</text></g>
<g id="b5m3a"><rect class="g" x="550.7" y="4867" width="129" height="26.2"/><text x="556.2" y="4884.2">完成练习四第1、2题。</text></g>
<g id="b5m4"><rect class="g" x="702.2" y="4918.4" width="92.7" height="26.2"/><text x="707.7" y="4935.6">四、课题小结：</text></g>
<g id="b5m4a"><rect class="g" x="476.8" y="4918.4" width="202.9" height="26.2"/><text x="482.3" y="4935.6">这节课你在激烈的讨论中有什么收获?</text></g>

<g id="b2"><rect class="bo" x="1455.1" y="906.1" width="248.2" height="54.4"/><text class="bt" x="1463.1" y="928.1">五年级数学下册教案及其反思2021</text><text class="bt" x="1463.1" y="948.1">文案2</text></g>
<g id="b2n"><rect class="o" x="1725.9" y="250.8" width="69.2" height="26.2"/><text x="1731.4" y="268">教学内容：</text></g>
<g id="b2n1"><rect class="o" x="1816.9" y="250.8" width="137.7" height="26.2"/><text x="1822.4" y="268">教材第29-30页的内容。</text></g>
<g id="b2o"><rect class="o" x="1725.9" y="376.9" width="69.2" height="26.2"/><text x="1731.4" y="394.1">教学目标：</text></g>
<g id="b2o1"><rect class="o" x="1816.9" y="302.6" width="245.1" height="41.2"/><text x="1822.4" y="319.8">1.能用方程解决简单的有关分数的实际问题，</text><text x="1822.4" y="334.8">初步体会方程是解决实际问题。</text></g>
<g id="b2o2"><rect class="o" x="1816.9" y="369" width="245.1" height="41.2"/><text x="1822.4" y="386.2">2.探索并掌握分数除以整数的计算方法，并能</text><text x="1822.4" y="401.2">正确计算。</text></g>
<g id="b2o3"><rect class="o" x="1816.9" y="435.4" width="245.1" height="41.2"/><text x="1822.4" y="452.6">3.能够运用分数除以整数解决简单的实际问题</text><text x="1822.4" y="467.6">。</text></g>
<g id="b2p"><rect class="o" x="1725.9" y="510.2" width="69.2" height="26.2"/><text x="1731.4" y="527.4">教学重点：</text></g>
<g id="b2p1"><rect class="o" x="1816.9" y="502.4" width="245.1" height="41.2"/><text x="1822.4" y="519.6">分析分数除法应用题中数量间的关系，用方程</text><text x="1822.4" y="534.6">解答分数除法应用题。</text></g>
<g id="b2q"><rect class="o" x="1725.9" y="569.3" width="69.2" height="26.2"/><text x="1731.4" y="586.5">教学难点：</text></g>
<g id="b2q1"><rect class="o" x="1816.9" y="569.3" width="221" height="26.2"/><text x="1822.4" y="586.5">运用分数除以整数解决简单的实际问题。</text></g>
<g id="b2r"><rect class="o" x="1725.9" y="621.1" width="69.2" height="26.2"/><text x="1731.4" y="638.3">教具准备：</text></g>
<g id="b2r1"><rect class="o" x="1816.9" y="621.1" width="70" height="26.2"/><text x="1822.4" y="638.3">多媒体课件</text></g>
<g id="b2s"><rect class="o" x="1725.9" y="769.1" width="69.2" height="26.2"/><text x="1731.4" y="786.3">预习提纲：</text></g>
<g id="b2s1"><rect class="o" x="1816.9" y="672.4" width="245.1" height="41.2"/><text x="1822.4" y="689.6">1.观察课本第29页的图，从中你能获得哪些数</text><text x="1822.4" y="704.6">学信息呢?</text></g>
<g id="b2s2"><rect class="o" x="1816.9" y="739.8" width="213.1" height="26.2"/><text x="1822.4" y="757">2.根据这些数学信息你能提出哪些问题?</text></g>
<g id="b2s3"><rect class="o" x="1816.9" y="791.1" width="245.1" height="41.2"/><text x="1822.4" y="808.3">3.分析例题，写出等量关系，并试用方程解答</text><text x="1822.4" y="823.3">。</text></g>
<g id="b2s4"><rect class="o" x="1816.9" y="858" width="131.5" height="26.2"/><text x="1822.4" y="875.2">4.想想还有别的算法吗?</text></g>
<g id="b2t"><rect class="o" x="1725.9" y="1590" width="69.2" height="26.2"/><text x="1731.4" y="1607.2">教学过程：</text></g>
<g id="b2t1"><rect class="o" x="1816.9" y="973.4" width="140.1" height="26.2"/><text x="1822.4" y="990.6">一、创设情境，引发探究</text></g>
<g id="b2t1a"><rect class="o" x="1979.5" y="910.3" width="243.5" height="41.2"/><text x="1985" y="927.5">1.同学们喜欢课外活动吗?你们喜欢参加哪些</text><text x="1985" y="942.5">课外活动?</text></g>
<g id="b2t1b"><rect class="o" x="1979.5" y="1020.5" width="243.5" height="41.2"/><text x="1985" y="1037.7">2.课件出示：从画面中你能获得哪些数学信息</text><text x="1985" y="1052.7">呢?这些数量之间有什么关系?</text></g>
<g id="b2t1b1"><rect class="o" x="2246.4" y="976" width="175" height="26.2"/><text x="2251.9" y="993.2">(1)打篮球的人数是踢足球的4/9.</text></g>
<g id="b2t1b2"><rect class="o" x="2246.4" y="1028.3" width="175" height="26.2"/><text x="2251.9" y="1045.5">(2)踢毽子的人数是踢足球的1/3.</text></g>
<g id="b2t1b3"><rect class="o" x="2246.4" y="1080.6" width="210" height="26.2"/><text x="2251.9" y="1097.8">(3)跳绳的人数是参加活动总人数的2/9.</text></g>
<g id="b2t1b3a"><rect class="o" x="2479.8" y="1080.6" width="28.8" height="26.2"/><text x="2484" y="1097.8">……</text></g>
<g id="b2t2"><rect class="o" x="1816.9" y="1434.2" width="140.1" height="26.2"/><text x="1822.4" y="1451.4">二、提出问题，自主探究</text></g>
<g id="b2t2a"><rect class="o" x="1979.5" y="1181" width="212.4" height="26.2"/><text x="1985" y="1198.2">1.根据这些数学信息你能提出哪些问题?</text></g>
<g id="b2t2a1"><rect class="o" x="2215.3" y="1131.4" width="243.5" height="56.2"/><text x="2220.8" y="1148.6">操场上一共有27人参加活动，跳绳的小朋友</text><text x="2220.8" y="1163.6">人数是操场上参加活动总人数的2/9.跳绳的有</text><text x="2220.8" y="1178.6">多少人?</text></g>
<g id="b2t2a2"><rect class="o" x="2215.3" y="1213.5" width="231.8" height="26.2"/><text x="2220.8" y="1230.7">列出这题的等量关系，并解答。全班交流。</text></g>
<g id="b2t2b"><rect class="o" x="1979.5" y="1455.1" width="194.5" height="26.2"/><text x="1985" y="1472.3">2.还能提出哪些数学问题，引出例题</text></g>
<g id="b2t2b1"><rect class="o" x="2196.6" y="1265.8" width="245" height="41.2"/><text x="2202.1" y="1283">跳绳的小朋友有6人，是操场上参加活动总人</text><text x="2202.1" y="1298">数的2/9。操场上有多少人参加活动?</text></g>
<g id="b2t2b2"><rect class="o" x="2196.6" y="1332.7" width="245" height="41.2"/><text x="2202.1" y="1349.9">这道题与上题有哪些区别和联系呢?能找到这</text><text x="2202.1" y="1364.9">道题的数量关系吗?</text></g>
<g id="b2t2b3"><rect class="o" x="2196.6" y="1399.1" width="245" height="56.2"/><text x="2202.1" y="1416.3">你能用方程的知识，解决这样的问题吗?应该</text><text x="2202.1" y="1431.3">如何解设?小组讨论，再由教师指名在黑板上</text><text x="2202.1" y="1446.3">演示。</text></g>
<g id="b2t2b4"><rect class="o" x="2196.6" y="1481.3" width="168.8" height="26.2"/><text x="2202.1" y="1498.5">解：设操场上有x人参加活动。</text></g>
<g id="b2t2b5"><rect class="o" x="2196.6" y="1532.5" width="61.4" height="26.2"/><text x="2202.1" y="1549.7">χ×2/9=6</text></g>
<g id="b2t2b6"><rect class="o" x="2196.6" y="1584.3" width="115.9" height="26.2"/><text x="2202.1" y="1601.5">χ×2/9÷2/9=6÷2/9</text></g>
<g id="b2t2b7"><rect class="o" x="2196.6" y="1635.5" width="49" height="26.2"/><text x="2202.1" y="1652.7">χ×=27</text></g>
<g id="b2t2c"><rect class="o" x="1979.5" y="1687.8" width="235.8" height="26.2"/><text x="1985" y="1705">3.想一想，还有别的算法吗?怎么算?为什么?</text></g>
<g id="b2t2c1"><rect class="o" x="2238.6" y="1687.8" width="85.6" height="26.2"/><text x="2244.1" y="1705">6÷2/9=27(人)</text></g>
<g id="b2t3"><rect class="o" x="1816.9" y="1951.8" width="140.1" height="26.2"/><text x="1822.4" y="1969">三、巩固练习，实践探究</text></g>
<g id="b2t3a"><rect class="o" x="1979.5" y="1739.4" width="243.5" height="41.2"/><text x="1985" y="1756.6">刚才同学们根据图中的数学信息，提出了很多</text><text x="1985" y="1771.6">的数学问题，这些数学问题，你们能解答吗?</text></g>
<g id="b2t3b"><rect class="o" x="1979.5" y="1917.8" width="143.9" height="26.2"/><text x="1985" y="1935">1.操场上打篮球的有4人。</text></g>
<g id="b2t3b1"><rect class="o" x="2146.8" y="1806.4" width="243.5" height="41.2"/><text x="2152.3" y="1823.6">(1)打篮球的人数是踢足球人数的4/9，踢足球</text><text x="2152.3" y="1838.6">的人数是多少?</text></g>
<g id="b2t3b2"><rect class="o" x="2146.8" y="1872.8" width="243.5" height="41.2"/><text x="2152.3" y="1890">(2)踢毽子的人数是踢足球人数的1/3，踢毽子</text><text x="2152.3" y="1905">的人数是多少?</text></g>
<g id="b2t3b3"><rect class="o" x="2146.8" y="1939.7" width="243.5" height="41.2"/><text x="2152.3" y="1956.9">(3)操场上踢足球的有9人，是操场上参加活动</text><text x="2152.3" y="1971.9">总人数的1/3，操场上参加活动有多少人?</text></g>
<g id="b2t3b4"><rect class="o" x="2146.8" y="2006.1" width="243.5" height="56.2"/><text x="2152.3" y="2023.3">(4)操场上踢毽子的有3人，是操场上参加活动</text><text x="2152.3" y="2038.3">总人数的1/9，是操场上参加活动总人数的1/</text><text x="2152.3" y="2053.3">3。</text></g>
<g id="b2t3c"><rect class="o" x="1979.5" y="2088.3" width="243.5" height="41.2"/><text x="1985" y="2105.5">2.某月双休日 9天，是这个月总天数的3/10，</text><text x="1985" y="2120.5">这个月有多少天?</text></g>
<g id="b2t3c1"><rect class="o" x="2246.4" y="2088.3" width="243.6" height="41.2"/><text x="2251.9" y="2105.5">(板演过程中，着重分析学生可能存在的误解</text><text x="2251.9" y="2120.5">之处。)</text></g>
<g id="b2t3d"><rect class="o" x="1979.5" y="2154.7" width="207" height="26.2"/><text x="1985" y="2171.9">3.根据以下方程，编出相应的应用题。</text></g>
<g id="b2t3d1"><rect class="o" x="2209.8" y="2154.7" width="126" height="26.2"/><text x="2215.3" y="2171.9">χ×1/5=30 χ×2/3=40</text></g>
<g id="b2t4"><rect class="o" x="1816.9" y="2207" width="150.9" height="26.2"/><text x="1822.4" y="2224.2">四、回顾反思，总结全课。</text></g>
<g id="b2t4a"><rect class="o" x="1991.2" y="2207" width="178.9" height="26.2"/><text x="1996.7" y="2224.2">通过这节课的学习你有哪些收获?</text></g>

<g id="b4"><rect class="br" x="1455.1" y="3188" width="248.2" height="54.4"/><text class="bt wt" x="1463.1" y="3210">五年级数学下册教案及其反思2021</text><text class="bt wt" x="1463.1" y="3230">文案4</text></g>
<g id="b4u1"><rect class="r" x="1725.9" y="2259.3" width="238.1" height="26.2"/><text x="1731.4" y="2276.5">教学内容: 人教版小学五年级数学质数和合数</text></g>
<g id="b4u2"><rect class="r" x="1725.9" y="2310.5" width="242.7" height="56.2"/><text x="1731.4" y="2327.7">教学目标: 1.理解质数和合数的概念，并能判</text><text x="1731.4" y="2342.7">断一个数是质数还是合数,会把自然数按因数</text><text x="1731.4" y="2357.7">的个数进行分类.</text></g>
<g id="b4u3"><rect class="r" x="1725.9" y="2547.3" width="242.7" height="41.2"/><text x="1731.4" y="2564.5">2.培养学生细心观察全面概括,准确判断,自主</text><text x="1731.4" y="2579.5">探索、独立思考、合作交流的能力。</text></g>
<g id="b4u3a"><rect class="r" x="1992" y="2392.1" width="241.2" height="26.2"/><text x="1997.5" y="2409.3">教学重点: 能准确判断一个数是质数还是合数.</text></g>
<g id="b4u3b"><rect class="r" x="1992" y="2443.9" width="168.8" height="26.2"/><text x="1997.5" y="2461.1">教学难点: 找出100以内的质数.</text></g>
<g id="b4u3c"><rect class="r" x="1992" y="2495.7" width="59.9" height="26.2"/><text x="1997.5" y="2512.9">教学过程:</text></g>
<g id="b4u3d"><rect class="r" x="1992" y="2603.2" width="245" height="41.2"/><text x="1997.5" y="2620.4">一、复习导入(加深前面知识的理解,为新知作</text><text x="1997.5" y="2635.4">铺垫)</text></g>
<g id="b4u3d1"><rect class="r" x="2259.6" y="2547.3" width="244.3" height="41.2"/><text x="2265.1" y="2564.5">下面各数谁是谁的因数,谁是谁的倍数,谁是偶</text><text x="2265.1" y="2579.5">数,谁是奇数.</text></g>
<g id="b4u3d2"><rect class="r" x="2259.6" y="2613.7" width="157.2" height="26.2"/><text x="2265.1" y="2630.9">3和15 4和24 49和7 91和13</text></g>
<g id="b4u3d3"><rect class="r" x="2259.6" y="2666" width="68.4" height="26.2"/><text x="2265.1" y="2683.2">指名回答。</text></g>
<g id="b4u3e"><rect class="r" x="1992" y="2717.2" width="221.7" height="26.2"/><text x="1997.5" y="2734.4">二、小组合作学习质数和合数的的概念。</text></g>
<g id="b4u3e1"><rect class="r" x="2237" y="2717.2" width="225.7" height="26.2"/><text x="2242.5" y="2734.4">全班分两组探讨并写出1~20各数的因数。</text></g>
<g id="b4u4"><rect class="r" x="1725.9" y="2769" width="180.5" height="26.2"/><text x="1731.4" y="2786.2">1、观察各数因数的个数的特点。</text></g>
<g id="b4u5"><rect class="r" x="1725.9" y="2872.6" width="157.1" height="26.2"/><text x="1731.4" y="2889.8">2、板前填写师出示的表格。</text></g>
<g id="b4u5a"><rect class="r" x="1906.4" y="2821.3" width="80.1" height="26.2"/><text x="1911.9" y="2838.5">只有一个因数</text></g>
<g id="b4u5b"><rect class="r" x="1906.4" y="2872.6" width="133.8" height="26.2"/><text x="1911.9" y="2889.8">只有1和它本身两个因数</text></g>
<g id="b4u5c"><rect class="r" x="1906.4" y="2924.3" width="157.1" height="26.2"/><text x="1911.9" y="2941.5">除了1和它本身还有别的因数</text></g>
<g id="b4u6"><rect class="r" x="1725.9" y="2976.1" width="242.7" height="56.2"/><text x="1731.4" y="2993.3">3、师概括：只有1和它本身两个因数，这样</text><text x="1731.4" y="3008.3">的的数叫做质数。除了1和它本身还有别的因</text><text x="1731.4" y="3023.3">数，这们的数叫做合数。(板书：质数和合数)</text></g>
<g id="b4u7"><rect class="r" x="1725.9" y="3276.3" width="63.8" height="26.2"/><text x="1731.4" y="3293.5">4、举例。</text></g>
<g id="b4u7a"><rect class="r" x="1813" y="3058.2" width="144" height="26.2"/><text x="1818.5" y="3075.4">你能举一些质数的例子吗?</text></g>
<g id="b4u7b"><rect class="r" x="1813" y="3109.5" width="144" height="26.2"/><text x="1818.5" y="3126.7">你能举一些合数的例子吗?</text></g>
<g id="b4u7c"><rect class="r" x="1813" y="3161.8" width="242.8" height="41.2"/><text x="1818.5" y="3179">练习：最小的质数是谁?最小的合数是谁?质数</text><text x="1818.5" y="3194">有多少个因数?合数至少有多少个因数?</text></g>
<g id="b4u7d"><rect class="r" x="1813" y="3228.7" width="161.1" height="26.2"/><text x="1818.5" y="3245.9">5、探究"1"是质数还是合数。</text></g>
<g id="b4u7e"><rect class="r" x="1813" y="3280.5" width="242.8" height="86.2"/><text x="1818.5" y="3297.7">刚才我们说了还有一类就是只有一个因数的。</text><text x="1818.5" y="3312.7">想一想：只有一个因数的数除了1还有其它的</text><text x="1818.5" y="3327.7">数吗?(没有了，)1是质数吗?为什么?是合数吗</text><text x="1818.5" y="3342.7">?为什么?(不是，因为它既不符合质数的特点</text><text x="1818.5" y="3357.7">，也不符合合数的特点。)</text></g>
<g id="b4u7f"><rect class="r" x="1813" y="3391.7" width="227.2" height="26.2"/><text x="1818.5" y="3408.9">引导学生明确：1既不是质数也不是合数。</text></g>
<g id="b4u7g"><rect class="r" x="1813" y="3443.5" width="202.3" height="26.2"/><text x="1818.5" y="3460.7">练习：自然数中除了质数就是合数吗?</text></g>
<g id="b4u7h"><rect class="r" x="1813" y="3495.3" width="115.2" height="26.2"/><text x="1818.5" y="3512.5">三、给自然数分类。</text></g>
<g id="b4u8"><rect class="r" x="1725.9" y="3595.7" width="63.8" height="26.2"/><text x="1731.4" y="3612.9">1、想一想</text></g>
<g id="b4u8a"><rect class="r" x="1813" y="3547" width="242.8" height="56.2"/><text x="1818.5" y="3564.2">师：按照是不是2的倍数把自然数分为奇数和</text><text x="1818.5" y="3579.2">偶数。按照因数个数的多少，把非零自然数分</text><text x="1818.5" y="3594.2">为哪几类?</text></g>
<g id="b4u8b"><rect class="r" x="1813" y="3628.6" width="121.4" height="26.2"/><text x="1818.5" y="3645.8">生：质数，合数，1。</text></g>
<g id="b4u9"><rect class="r" x="1725.9" y="3762" width="75.5" height="26.2"/><text x="1731.4" y="3779.2">2、说一说。</text></g>
<g id="b4u9a"><rect class="r" x="1823.9" y="3680.4" width="244.3" height="41.2"/><text x="1829.4" y="3697.6">既然知道了什么是质数，什么是合数，那么判</text><text x="1829.4" y="3712.6">断一个数是质数还是合数，关键是看什么?</text></g>
<g id="b4u9b"><rect class="r" x="1823.9" y="3746.8" width="244.3" height="56.2"/><text x="1829.4" y="3764">引导学生明确：关键看因数的个数，一个数如</text><text x="1829.4" y="3779">果只有1和它本身两个因数，这个数就是质数</text><text x="1829.4" y="3794">，如果有两个以上因数，这个数就是合数。</text></g>
<g id="b4u9c"><rect class="r" x="1823.9" y="3836.8" width="171.2" height="26.2"/><text x="1829.4" y="3854">四、师生学习教材24页的例1。</text></g>
<g id="b4u9c1"><rect class="r" x="2018.4" y="3829" width="244.3" height="41.2"/><text x="2023.9" y="3846.2">老师：除了用找因数的方法判断一个数是质数</text><text x="2023.9" y="3861.2">还是合数，还可以用查质数表的方法。</text></g>
<g id="b4u10"><rect class="r" x="1725.9" y="4146.4" width="194.5" height="26.2"/><text x="1731.4" y="4163.6">1、师引导学生找出30以内的质数。</text></g>
<g id="b4u10a"><rect class="r" x="1943" y="3895.4" width="244.2" height="101.2"/><text x="1948.5" y="3912.6">提问：这些数里有质数、合数和1，现在要保</text><text x="1948.5" y="3927.6">留30以内的质数，其他的数应该怎么办?(先划</text><text x="1948.5" y="3942.6">去1，)再划去什么?(再划去2以外的偶数)最后</text><text x="1948.5" y="3957.6">划去什么?(最后划去3、5的倍数，但3、5本</text><text x="1948.5" y="3972.6">身不划去)剩下的都是什么数?(剩下的就是30</text><text x="1948.5" y="3987.6">以内的质数。)</text></g>
<g id="b4u10b"><rect class="r" x="1943" y="4022.5" width="219.3" height="26.2"/><text x="1948.5" y="4039.7">(特殊记忆20以内的质数，因为它常用。)</text></g>
<g id="b4u10c"><rect class="r" x="1943" y="4074.2" width="167.2" height="26.2"/><text x="1948.5" y="4091.4">2。小组探究100以内的质数。</text></g>
<g id="b4u10d"><rect class="r" x="1943" y="4126" width="244.2" height="41.2"/><text x="1948.5" y="4143.2">3。汇报100以内的质数。师生共同整理100</text><text x="1948.5" y="4158.2">以内的质数表。</text></g>
<g id="b4u10e"><rect class="r" x="1943" y="4357.5" width="142.3" height="26.2"/><text x="1948.5" y="4374.7">4。应用100以内质数表：</text></g>
<g id="b4u10e1"><rect class="r" x="2108.7" y="4192.7" width="244.3" height="41.2"/><text x="2114.2" y="4209.9">练习：(1)有的奇数都是质数吗?(2)所有的偶数</text><text x="2114.2" y="4224.9">都是合数吗?</text></g>
<g id="b4u10e2"><rect class="r" x="2108.7" y="4266.5" width="93.3" height="26.2"/><text x="2114.2" y="4283.7">五、思维训练。</text></g>
<g id="b4u10e2a"><rect class="r" x="2224.6" y="4259" width="243.5" height="41.2"/><text x="2230.1" y="4276.2">有两个质数，它们的和是小于100的奇数，并</text><text x="2230.1" y="4291.2">且是17的倍数。求这两个数。</text></g>
<g id="b4u10e3"><rect class="r" x="2108.7" y="4513.4" width="93.3" height="26.2"/><text x="2114.2" y="4530.6">六、课堂小结。</text></g>
<g id="b4u10e3a"><rect class="r" x="2224.6" y="4327" width="243.5" height="101.2"/><text x="2230.1" y="4344.2">这节课你学会了什么?(质数和合数)什么叫质</text><text x="2230.1" y="4359.2">数?(一个数只有1和它本身两个因数，这样的</text><text x="2230.1" y="4374.2">数叫做质数)什么叫合数?(一个数除了1和它本</text><text x="2230.1" y="4389.2">身外还有别的因数的，这样的数叫做合数。)</text><text x="2230.1" y="4404.2">你会判断质数和合数吗?判断的关键是什么?(</text><text x="2230.1" y="4419.2">看这个数因数的个数。)</text></g>
<g id="b4u10e3b"><rect class="r" x="2224.6" y="4453.8" width="243.5" height="116.2"/><text x="2230.1" y="4471">反思：在设计质数与合数这一节课时，我用"</text><text x="2230.1" y="4486">细心观察、全面概括、准确判断"这一主线贯</text><text x="2230.1" y="4501">穿全课。并在每个新知的后面都设计了一个小</text><text x="2230.1" y="4516">练习。以便及时巩固和加深对新知的理解和记</text><text x="2230.1" y="4531">忆，最后的思维训练，是给本节课学得很好的</text><text x="2230.1" y="4546">学生一个思维的提升。小结又针对全班学生做</text><text x="2230.1" y="4561">了新知的概括。</text></g>
<g id="b4u10e3c"><rect class="r" x="2224.6" y="4594.8" width="243.5" height="161.2"/><text x="2230.1" y="4612">在学生找20以内各数的因数时，我应该注重</text><text x="2230.1" y="4627">探索，体现自主，就是放手让学生自己想办法</text><text x="2230.1" y="4642">以最短的时间找出各数因数，并在我的引导下</text><text x="2230.1" y="4657">按因数的个数给各数分类，最终得出质数和合</text><text x="2230.1" y="4672">数的概念。在以后的学习中我应当多多提倡自</text><text x="2230.1" y="4687">主探索性学习，注重"学习过程"，而不是急于</text><text x="2230.1" y="4702">看到结果，让学生成为自主自动的思想家，在</text><text x="2230.1" y="4717">学习新知识时根据已积累的知识经验有所选择</text><text x="2230.1" y="4732">、判断、解释、运用，从而有所发现、有所创</text><text x="2230.1" y="4747">造。</text></g>

<g id="b6"><rect class="bb" x="1455.1" y="5000.6" width="248.2" height="53.7"/><text class="bt wt" x="1463.1" y="5022.6">五年级数学下册教案及其反思文案</text><text class="bt wt" x="1463.1" y="5042.6">相关文章：</text></g>
<g id="v1"><rect class="b" x="1725.9" y="4782" width="187.5" height="26.1"/><text x="1731.4" y="4799.2">★ 五年级数学下学期教案最新文案</text></g>
<g id="v2"><rect class="b" x="1725.9" y="4833.5" width="191.4" height="26.1"/><text x="1731.4" y="4850.7">★ 2021年五年级下册数学教案文案</text></g>
<g id="v3"><rect class="b" x="1725.9" y="4885" width="214.7" height="26.1"/><text x="1731.4" y="4902.2">★ 2021人教版五年级下册数学教案文案</text></g>
<g id="v4"><rect class="b" x="1725.9" y="4936.4" width="164.3" height="26.1"/><text x="1731.4" y="4953.6">★ 数学课五年级教案最新文案</text></g>
<g id="v5"><rect class="b" x="1725.9" y="4987.9" width="214.7" height="26.1"/><text x="1731.4" y="5005.1">★ 五年级苏教版数学下册教案2021文案</text></g>
<g id="v6"><rect class="b" x="1725.9" y="5039.6" width="156.4" height="26.1"/><text x="1731.4" y="5056.8">★ 2021数学五年级教案文案</text></g>
<g id="v7"><rect class="b" x="1725.9" y="5091.2" width="179.8" height="26.1"/><text x="1731.4" y="5108.4">★ 2021最新五年级数学下册教案</text></g>
<g id="v8"><rect class="b" x="1725.9" y="5142.8" width="175.8" height="26.1"/><text x="1731.4" y="5160">★ 最新五年级教案数学教案文案</text></g>
<g id="v9"><rect class="b" x="1725.9" y="5194.4" width="191.4" height="26.1"/><text x="1731.4" y="5211.6">★ 五年级数学兴趣课教案2021文案</text></g>
<g id="v10"><rect class="b" x="1725.9" y="5246" width="226.4" height="26.1"/><text x="1731.4" y="5263.2">★ 苏教版小学数学五年级册教案2021文案</text></g>
</g>
</svg>
